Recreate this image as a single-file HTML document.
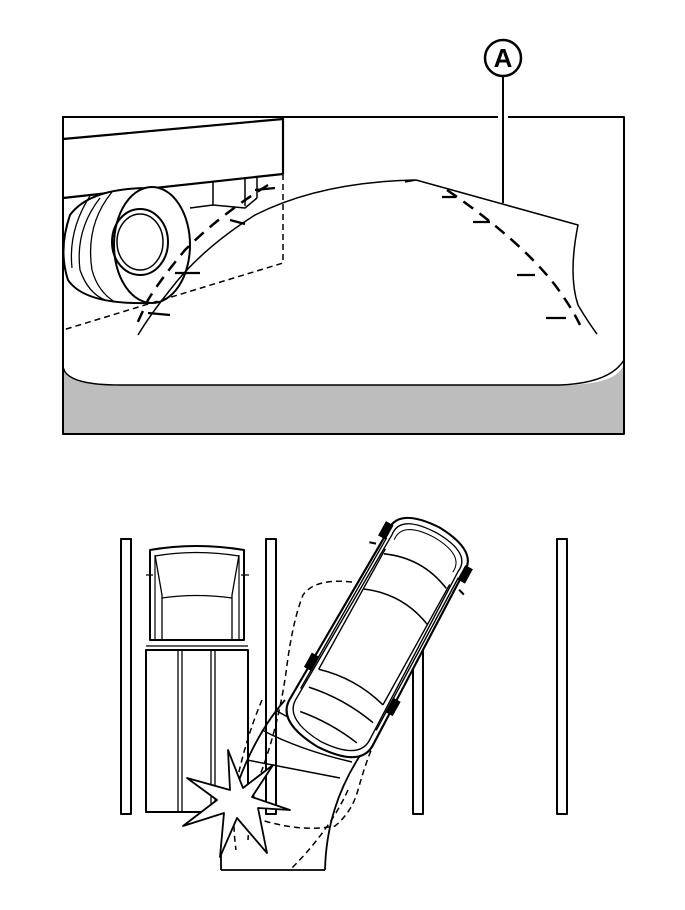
<!DOCTYPE html>
<html><head><meta charset="utf-8"><style>
html,body{margin:0;padding:0;background:#fff;}
svg{display:block;}
</style></head><body>
<svg width="685" height="910" viewBox="0 0 685 910" xmlns="http://www.w3.org/2000/svg" fill="none" stroke="#000" stroke-linecap="butt" stroke-linejoin="round">
<!-- TOP PANEL -->
<path d="M63,365 Q63,385 120,385 L560,385 Q624,385 624,360 L624,434 L63,434 Z" fill="#bdbdbd" stroke="none"/>
<path d="M63,365 Q63,385 120,385 L560,385 Q610,383 624,360" stroke-width="1.5"/>
<path d="M63,117 L498,117 M508,117 L624,117 L624,434 L63,434 L63,116" stroke-width="2"/>
<!-- label A -->
<circle cx="503" cy="58" r="18" stroke-width="2.5"/>
<text x="503" y="67" font-family="Liberation Sans, sans-serif" font-weight="bold" font-size="26" text-anchor="middle" fill="#000" stroke="none">A</text>
<line x1="503" y1="76" x2="503" y2="203" stroke-width="2"/>
<!-- truck body -->
<path d="M63,139 L283,119 M283,117 L283,174 M63,198 L283,174" stroke-width="2.2"/>
<path d="M213,182 L213,205 M245,178 L245,206 M257,177 L257,198 M190,208 L213,205 L245,208 L257,198" stroke-width="1.5"/>
<!-- tire -->
<path d="M150,188 Q90,188 70,215 Q58,250 68,280 Q85,305 150,303 Z" fill="#fff" stroke-width="2"/>
<path d="M100,198 Q75,230 80,270 Q88,293 105,300 M112,192 Q85,225 92,270 Q98,292 115,302 M90,196 Q68,230 72,268" stroke-width="1.3"/>
<ellipse cx="152" cy="245" rx="38" ry="58" fill="#fff" stroke-width="2"/>
<ellipse cx="140" cy="242" rx="28" ry="33" stroke-width="2"/>
<ellipse cx="140" cy="242" rx="23" ry="28" stroke-width="1.5"/>
<!-- dashed box -->
<path d="M283,174 L283,263 L63,330" stroke-width="1.5" stroke-dasharray="6,4"/>
<!-- left guide -->
<path d="M415,180 Q320,182 255,215 Q200,250 170,290 Q150,315 138,335" stroke-width="1.5"/>
<path d="M268,185 Q220,215 185,250 Q160,280 148,300 L135,328" stroke-width="2.5" stroke-dasharray="12,8"/>
<path d="M255,190 L275,188 M230,220 L245,224 M175,273 L200,273 M148,313 L170,315" stroke-width="2.2"/>
<!-- right guide -->
<path d="M405,182 L416,180 L578,225 Q568,275 578,305 Q588,322 597,334" stroke-width="1.5"/>
<path d="M447,190 Q520,240 555,285 Q572,308 580,325" stroke-width="2.5" stroke-dasharray="12,8"/>
<path d="M442,197 L456,197 M473,222 L490,222 M517,275 L535,275 M546,318 L566,318" stroke-width="2.2"/>

<!-- BOTTOM -->
<rect x="121" y="539" width="10" height="275" stroke-width="2"/>
<rect x="266" y="539" width="10" height="275" stroke-width="2"/>
<rect x="413" y="642" width="10" height="172" stroke-width="2"/>
<rect x="557" y="539" width="10" height="275" stroke-width="2"/>
<!-- truck top view -->
<path d="M150,640 L150,550 Q196,542 244,550 L244,640 Z" stroke-width="2"/>
<path d="M155,640 L155,556 Q196,549 239,556 L239,640" stroke-width="1.2"/>
<path d="M155,555 L162,595 L162,640 M239,555 L232,595 L232,640 M162,598 Q196,593 232,598 M146,575 L153,575 M241,575 L249,575" stroke-width="1.3"/>
<rect x="146" y="650" width="102" height="162" stroke-width="2"/>
<path d="M146,646 L248,646 M178,650 L178,812 M182,650 L182,812 M211,650 L211,812 M215,650 L215,812" stroke-width="1.3"/>
<!-- sweep -->
<path d="M221,870 L325,870" stroke-width="1.8"/>
<path d="M221,870 L221,850 C228,800 250,740 285,700" stroke-width="1.8"/>
<path d="M325,870 C326,830 336,790 365,748" stroke-width="1.8"/>
<path d="M247,760 L340,778 M262,730 Q300,750 352,762 M275,710 Q320,735 360,750" stroke-width="1.5"/>
<path d="M352,582 Q315,578 303,595 Q293,620 287,665 Q280,720 262,770 Q250,800 248,840" stroke-width="1.5" stroke-dasharray="6,4"/>
<path d="M255,818 Q300,833 335,826 Q352,812 358,790 Q365,765 372,748" stroke-width="1.5" stroke-dasharray="6,4"/>
<path d="M348,790 Q330,830 290,870" stroke-width="1.5" stroke-dasharray="6,4"/>
<path d="M262,700 Q245,740 235,790 Q232,820 236,850" stroke-width="1.5" stroke-dasharray="6,4"/>
<!-- star -->
<path d="M228,750 L243,788 L273,765 L252,797 L290,810 L258,808 L267,853 L237,818 L220,857 L224,813 L183,826 L217,800 L187,778 L230,790 Z" fill="#fff" stroke-width="1.8"/>
<!-- car -->
<g transform="translate(378,638) rotate(29) scale(1.08,1.02)">
<path d="M-40,-95 Q-44,-122 0,-124 Q44,-122 40,-95 L44,95 Q44,120 0,122 Q-44,120 -44,95 Z" fill="#fff" stroke-width="2"/>
<path d="M-35,-95 Q-38,-117 0,-118 Q38,-117 35,-95 L39,92 Q39,114 0,116 Q-39,114 -39,92 Z" stroke-width="1.3"/>
<path d="M-31,-92 Q-33,-112 0,-113 Q33,-112 31,-92" stroke-width="1"/>
<path d="M-33,-75 Q0,-90 33,-75 M-34,-35 Q0,-50 34,-35 M-34,55 Q0,45 34,55 M-34,75 Q0,68 34,75 M-30,100 Q0,95 30,100" stroke-width="1.5"/>
<path d="M-34,-80 L-34,55 M34,-80 L34,55 M-38,-90 L-40,80 M38,-90 L40,80" stroke-width="1.3"/>
<rect x="-46" y="-104" width="8" height="16" fill="#000" stroke="none"/>
<rect x="38" y="-104" width="8" height="16" fill="#000" stroke="none"/>
<rect x="-47" y="44" width="8" height="16" fill="#000" stroke="none"/>
<rect x="39" y="44" width="8" height="16" fill="#000" stroke="none"/>
<path d="M-44,-80 L-50,-78 M44,-80 L50,-78" stroke-width="2"/>
</g>
</svg>
</body></html>
